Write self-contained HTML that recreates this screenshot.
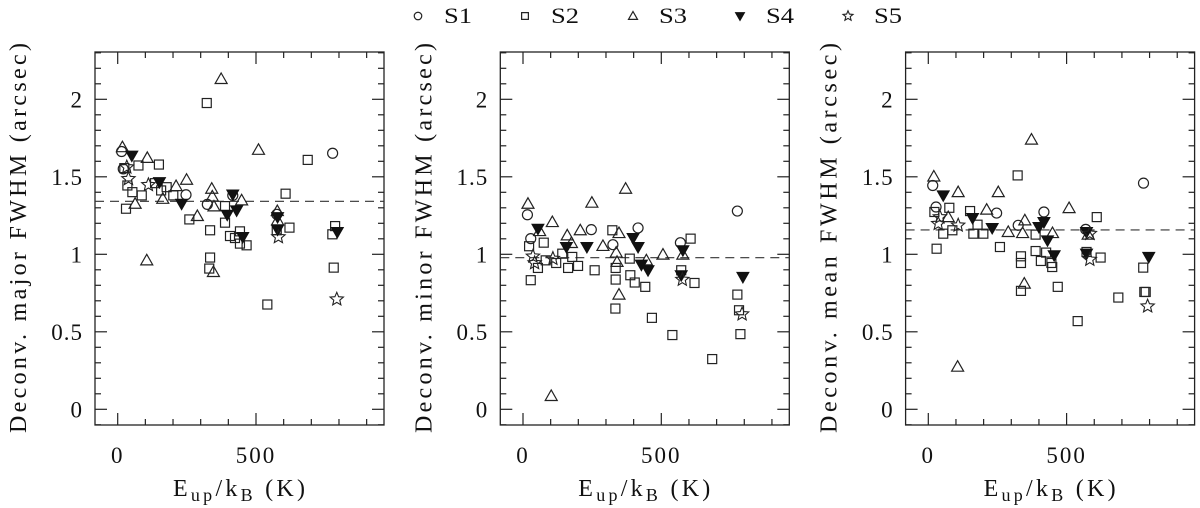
<!DOCTYPE html>
<html><head><meta charset="utf-8"><style>
body{margin:0;background:#fff;}
svg{display:block;}
text{font-family:"Liberation Serif","DejaVu Serif",serif;fill:#111;}
</style></head><body>
<svg id="chart" width="1200" height="508" viewBox="0 0 1200 508" xmlns="http://www.w3.org/2000/svg"></svg>
<script>
const panelTitles = ["Deconv. major FWHM (arcsec)", "Deconv. minor FWHM (arcsec)", "Deconv. mean FWHM (arcsec)"];
const panelKeys = ["major", "minor", "mean"];
const seriesNames = ["S1", "S2", "S3", "S4", "S5"];
const xTickLabels = [0, 500];
const yTickLabels = [0, 0.5, 1, 1.5, 2];
const meanLines = [1.342, 0.978, 1.157];

// major
const majorS1x = [14,20,247,324,416,575,777];
const majorS1y = [1.663,1.551,1.384,1.322,1.380,1.258,1.652];
const majorS2x = [322,24,75,149,35,53,87,30,135,157,177,201,259,334,334,331,388,388,406,424,442,442,466,607,621,541,687,786,776,781,575];
const majorS2y = [1.976,1.556,1.573,1.579,1.444,1.401,1.380,1.294,1.459,1.412,1.433,1.380,1.225,1.155,0.979,0.908,1.311,1.204,1.118,1.105,1.148,1.069,1.058,1.391,1.172,0.676,1.609,1.182,1.129,0.914,1.155];
const majorS3x = [17,63,107,105,163,211,249,288,340,342,348,346,374,448,509,577,578];
const majorS3y = [1.691,1.326,1.622,0.961,1.358,1.440,1.481,1.247,1.423,1.373,1.309,0.886,2.131,1.348,1.674,1.279,1.219];
const majorS4x = [51,151,231,396,416,430,452,578,578,794];
const majorS4y = [1.637,1.466,1.326,1.255,1.386,1.283,1.112,1.240,1.159,1.144];
const majorS5x = [33,39,111,581,792];
const majorS5y = [1.562,1.487,1.448,1.112,0.710];

// minor
const minorS1x = [16,28,247,325,416,569,775];
const minorS1y = [1.255,1.101,1.159,1.062,1.170,1.075,1.279];
const minorS2x = [22,75,28,54,82,120,142,163,178,199,259,323,335,335,334,386,388,404,442,466,540,572,606,620,684,775,781,786];
const minorS2y = [1.052,1.075,0.833,0.912,0.961,0.944,1.004,0.912,0.983,0.925,0.897,1.155,0.912,0.837,0.650,0.972,0.865,0.818,0.790,0.590,0.479,0.897,1.101,0.815,0.324,0.740,0.639,0.485];
const minorS3x = [18,60,106,102,160,175,207,249,289,347,337,340,347,371,446,506,578];
const minorS3y = [1.326,1.150,1.208,0.086,1.122,1.073,1.155,1.333,1.054,1.137,1.011,0.951,0.740,1.423,0.961,0.998,0.998];
const minorS4x = [54,157,231,398,416,428,452,578,572,795];
const minorS4y = [1.165,1.047,1.047,1.105,1.047,0.933,0.897,1.026,0.865,0.854];
const minorS5x = [36,42,108,576,792];
const minorS5y = [0.987,0.944,0.972,0.837,0.614];

// mean
const meanS1x = [16,28,247,325,418,569,778];
const meanS1y = [1.444,1.305,1.266,1.187,1.273,1.161,1.459];
const meanS2x = [22,54,76,30,87,151,163,178,199,259,323,335,335,335,388,388,407,426,445,448,468,540,572,609,623,687,777,786,781];
const meanS2y = [1.273,1.133,1.300,1.036,1.155,1.279,1.133,1.191,1.133,1.047,1.509,0.987,0.944,0.764,1.127,1.021,0.957,1.011,0.944,0.918,0.790,0.569,1.015,1.240,0.979,0.721,0.914,0.757,0.757];
const meanS3x = [20,108,106,72,211,253,289,341,349,347,373,449,509,578];
const meanS3y = [1.502,1.401,0.275,1.240,1.288,1.401,1.144,1.137,1.219,0.811,1.740,1.137,1.298,1.127];
const meanS4x = [54,160,231,400,418,431,455,572,572,797];
const meanS4y = [1.380,1.234,1.170,1.176,1.208,1.090,0.994,1.144,1.004,0.983];
const meanS5x = [36,42,108,584,584,793];
const meanS5y = [1.197,1.240,1.187,1.133,0.966,0.665];

const panelData = [
  [[majorS1x,majorS1y],[majorS2x,majorS2y],[majorS3x,majorS3y],[majorS4x,majorS4y],[majorS5x,majorS5y]],
  [[minorS1x,minorS1y],[minorS2x,minorS2y],[minorS3x,minorS3y],[minorS4x,minorS4y],[minorS5x,minorS5y]],
  [[meanS1x,meanS1y],[meanS2x,meanS2y],[meanS3x,meanS3y],[meanS4x,meanS4y],[meanS5x,meanS5y]]
];

const NS = "http://www.w3.org/2000/svg";
const svg = document.getElementById('chart');
function mk(tag, attrs, parent) {
  const e = document.createElementNS(NS, tag);
  for (const k in attrs) e.setAttribute(k, attrs[k]);
  (parent || svg).appendChild(e);
  return e;
}
const PX0 = 117.7, PXS = 0.2766, PANEL_DX = 405.3;
const PY0 = 409.3, PYS = 155;
const FR_L = 95, FR_W = 289, FR_T = 52, FR_B = 425;

function starPath(cx, cy, R) {
  const r = R * 0.45; let d = "";
  for (let i = 0; i < 10; i++) {
    const a = -Math.PI / 2 + i * Math.PI / 5;
    const rr = i % 2 ? r : R;
    d += (i ? "L" : "M") + (cx + rr * Math.cos(a)).toFixed(1) + " " + (cy + rr * Math.sin(a)).toFixed(1);
  }
  return d + "Z";
}
function marker(type, cx, cy, parent, scale) {
  const s = scale || 1;
  let e;
  if (type === 0) e = mk('circle', {cx: cx, cy: cy, r: 5 * s, fill: 'none', stroke: '#222', 'stroke-width': 1.2}, parent);
  else if (type === 1) e = mk('rect', {x: cx - 4.5 * s, y: cy - 4.5 * s, width: 9 * s, height: 9 * s, fill: 'none', stroke: '#222', 'stroke-width': 1.2}, parent);
  else if (type === 2) e = mk('path', {d: `M${cx} ${cy - 6 * s}L${cx + 6 * s} ${cy + 4.5 * s}L${cx - 6 * s} ${cy + 4.5 * s}Z`, fill: 'none', stroke: '#222', 'stroke-width': 1.2}, parent);
  else if (type === 3) e = mk('path', {d: `M${cx - 6 * s} ${cy - 4.5 * s}L${cx + 6 * s} ${cy - 4.5 * s}L${cx} ${cy + 6 * s}Z`, fill: '#111', stroke: '#111', 'stroke-width': 1}, parent);
  else e = mk('path', {d: starPath(cx, cy, 7 * s), fill: 'none', stroke: '#222', 'stroke-width': 1.1}, parent);
  return e;
}

const legend = mk('g', {});


const legMarkX = [418, 525, 633, 740, 848];
seriesNames.forEach((nm, i) => {
  const g = mk('g', {}, legend);
  
  
  marker(i, legMarkX[i], 16, g, 0.75);
  const t = mk('text', {x: legMarkX[i] + 26, y: 23, 'font-size': 22, textLength: 28, lengthAdjust: 'spacingAndGlyphs'}, g);
  t.textContent = nm;
});

panelData.forEach((series, p) => {
  const ox = p * PANEL_DX;
  const g = mk('g', {});
  
  
  const xs = v => ox + PX0 + v * PXS;
  const ys = v => PY0 - v * PYS;
  const L = ox + FR_L, R = L + FR_W;
  const fr = mk('rect', {x: L, y: FR_T, width: FR_W, height: FR_B - FR_T, fill: 'none', stroke: '#222', 'stroke-width': 1.3}, g);
  
  
  for (let k = 0; k <= 900; k += 100) {
    const x = xs(k), len = k % 500 === 0 ? 12 : 6;
    mk('line', {x1: x, x2: x, y1: FR_B, y2: FR_B - len, stroke: '#222', 'stroke-width': 1.2}, g);
    mk('line', {x1: x, x2: x, y1: FR_T, y2: FR_T + len, stroke: '#222', 'stroke-width': 1.2}, g);
  }
  for (let k = -1; k <= 23; k++) {
    const v = k / 10, y = ys(v), len = k % 5 === 0 ? 12 : 6;
    if (y < FR_T || y > FR_B) continue;
    mk('line', {x1: L, x2: L + len, y1: y, y2: y, stroke: '#222', 'stroke-width': 1.2}, g);
    mk('line', {x1: R, x2: R - len, y1: y, y2: y, stroke: '#222', 'stroke-width': 1.2}, g);
  }
  xTickLabels.forEach(v => {
    const t = mk('text', {x: xs(v), y: 463, 'font-size': 23, 'text-anchor': 'middle', 'letter-spacing': 2}, g);
    
    
    t.textContent = v;
  });
  yTickLabels.forEach(v => {
    const t = mk('text', {x: L - 12, y: ys(v) + 8, 'font-size': 23, 'text-anchor': 'end', 'letter-spacing': 1}, g);
    
    
    t.textContent = v;
  });
  const yt = mk('text', {x: 0, y: 0, 'font-size': 24, 'text-anchor': 'middle', textLength: 390, lengthAdjust: 'spacing', transform: `translate(${ox + 26},${238}) rotate(-90)`}, g);
  
  
  yt.textContent = panelTitles[p];
  const xt = mk('text', {x: ox + 173, y: 496, 'font-size': 24, textLength: 132, lengthAdjust: 'spacing'}, g);
  
  
  xt.innerHTML = 'E<tspan font-size="18" dy="5">up</tspan><tspan dy="-5">/k</tspan><tspan font-size="18" dy="5">B</tspan><tspan dy="-5"> (K)</tspan>';
  const dl = mk('line', {x1: L, x2: R, y1: ys(meanLines[p]), y2: ys(meanLines[p]), stroke: '#333', 'stroke-width': 1.1, 'stroke-dasharray': '9 6'}, g);
  
  
  series.forEach((sd, si) => {
    const sg = mk('g', {}, g);
    
    
    sd[0].forEach((xv, j) => {
      const m = marker(si, xs(xv), ys(sd[1][j]), sg);
      
      
    });
  });
});
</script>
</body></html>
